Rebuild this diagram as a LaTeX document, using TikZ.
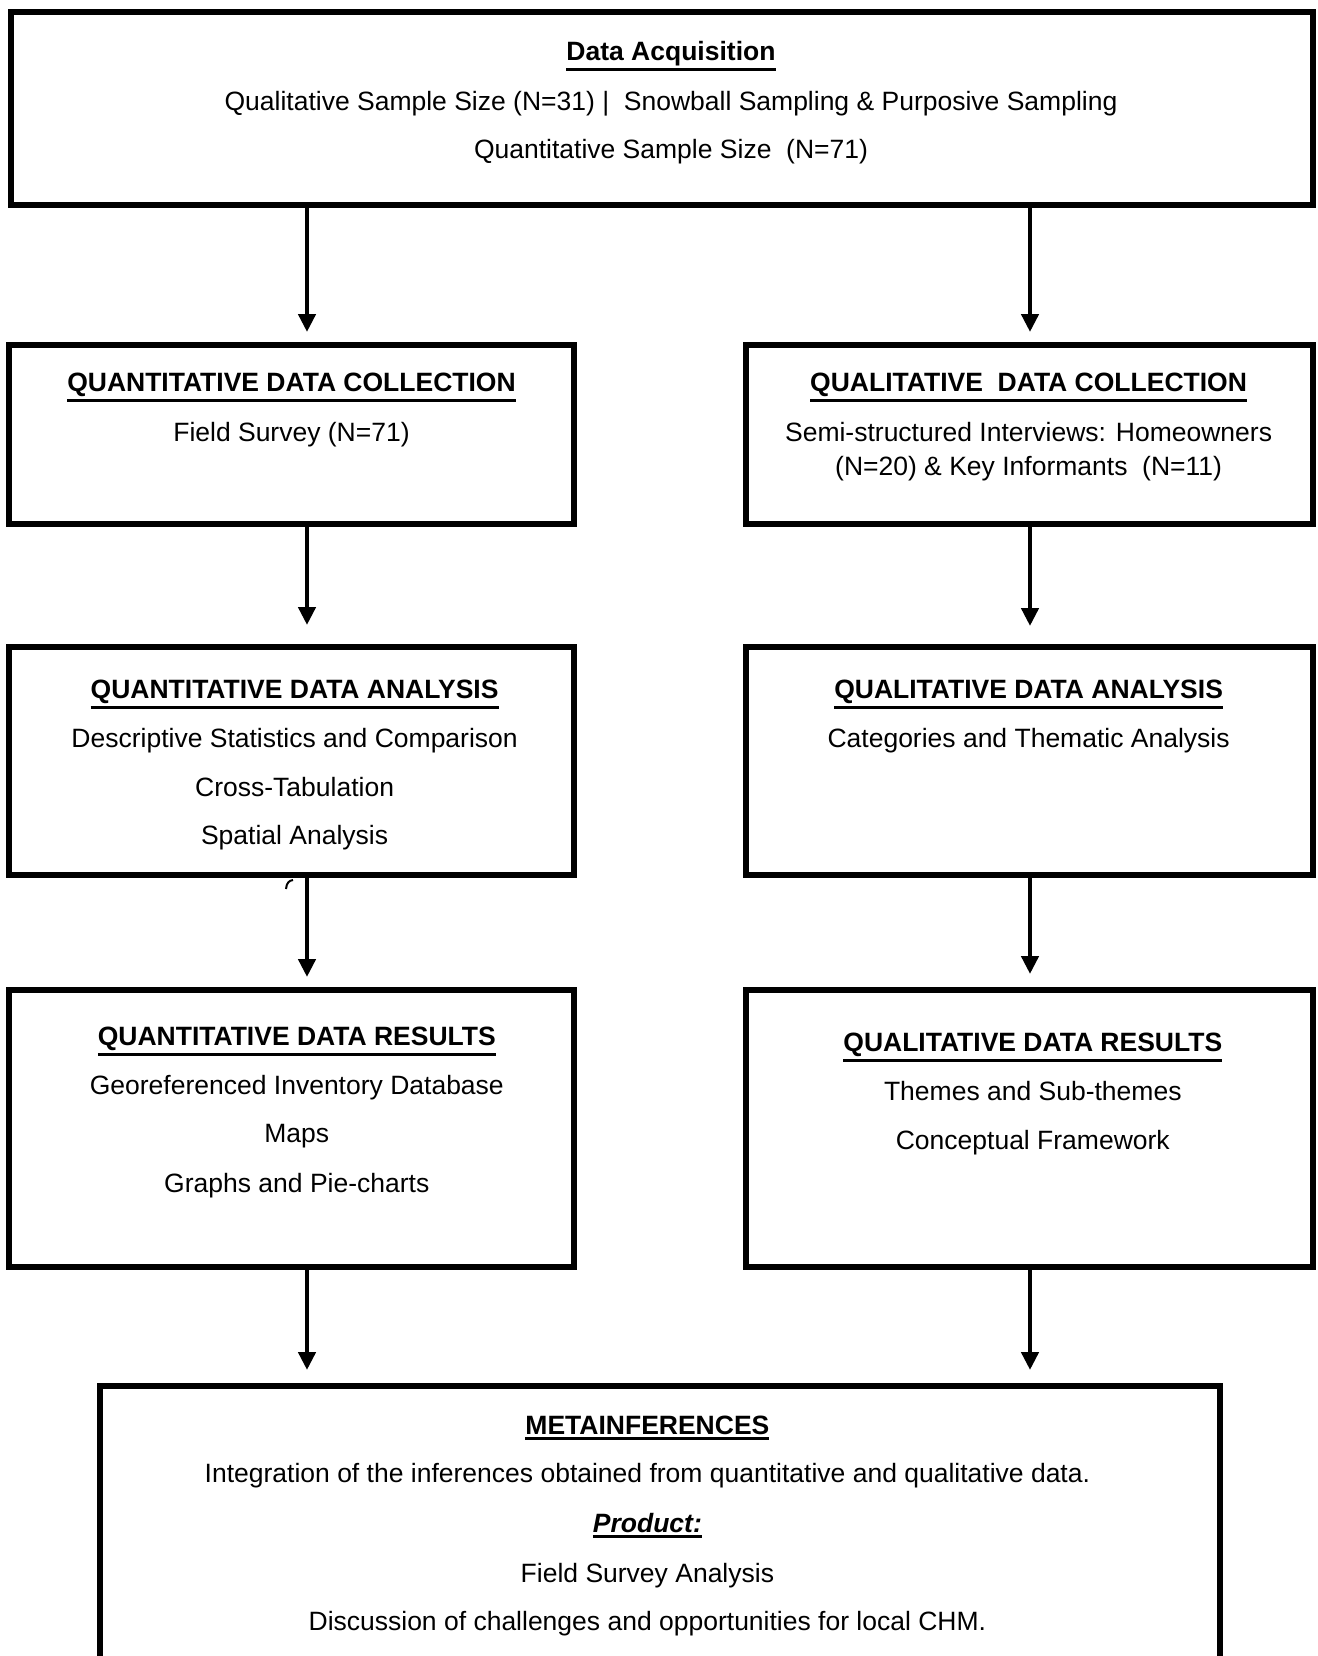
\documentclass[tikz,border=0pt]{standalone}
\usepackage{fontspec}
\setmainfont{Liberation Sans}
\usetikzlibrary{arrows.meta}
% underline with a thicker rule set just below the baseline
\newcommand{\heavyul}[1]{\leavevmode\vtop{\hbox{#1}\kern1.3pt\hrule height 1.5pt}}
\begin{document}
\begin{tikzpicture}[x=0.5pt,y=-0.5pt,
  box/.style={draw, line width=3.4pt, inner sep=0pt, rectangle},
  txt/.style={anchor=base, inner sep=0pt, font=\fontsize{13.25pt}{16pt}\selectfont},
  hdr/.style={txt, font=\fontsize{13.25pt}{16pt}\selectfont\bfseries},
  arr/.style={line width=2.2pt, -{Triangle[width=8.5pt,length=9pt]}}]
\clip (0,0) rectangle (1318,1656);
\fill[white] (0,0) rectangle (1318,1656);

% boxes
\node[box, minimum width=651pt, minimum height=96.5pt] (acq) at (662,108.5) {};
\node[box, minimum width=282.5pt, minimum height=89.5pt] (qncoll) at (291.5,434.5) {};
\node[box, minimum width=283.5pt, minimum height=89.5pt] (qlcoll) at (1029.5,434.5) {};
\node[box, minimum width=282.5pt, minimum height=114pt] (qnana) at (291.5,761) {};
\node[box, minimum width=283.5pt, minimum height=114pt] (qlana) at (1029.5,761) {};
\node[box, minimum width=282.5pt, minimum height=138.5pt] (qnres) at (291.5,1128.5) {};
\node[box, minimum width=283.5pt, minimum height=138.5pt] (qlres) at (1029.5,1128.5) {};
\node[box, minimum width=560pt, minimum height=157pt] (meta) at (660,1543) {};

% data acquisition
\node[hdr] (acqT) at (671,60) {\heavyul{Data Acquisition}};
\node[txt] (acq1) at (671,110) {Qualitative Sample Size (N=31) |~ Snowball Sampling \& Purposive Sampling};
\node[txt] (acq2) at (671,158) {Quantitative Sample Size~ (N=71)};

% collection
\node[hdr] (qncT) at (291.5,391.5) {\heavyul{QUANTITATIVE DATA COLLECTION}};
\node[txt] (qnc1) at (291.5,441.5) {Field Survey (N=71)};
\node[hdr] (qlcT) at (1028.6,391.5) {\heavyul{QUALITATIVE~ DATA COLLECTION}};
\node[txt] (qlc1) at (1028.6,441.5) {Semi-structured Interviews: Homeowners};
\node[txt] (qlc2) at (1028.6,475.5) {(N=20) \& Key Informants~ (N=11)};

% analysis
\node[hdr] (qnaT) at (294.6,698) {\heavyul{QUANTITATIVE DATA ANALYSIS}};
\node[txt] (qna1) at (294.6,747.5) {Descriptive Statistics and Comparison};
\node[txt] (qna2) at (294.6,796.5) {Cross-Tabulation};
\node[txt] (qna3) at (294.6,844.5) {Spatial Analysis};
\node[hdr] (qlaT) at (1028.6,698) {\heavyul{QUALITATIVE DATA ANALYSIS}};
\node[txt] (qla1) at (1028.6,747.5) {Categories and Thematic Analysis};

% results
\node[hdr] (qnrT) at (296.8,1045.5) {\heavyul{QUANTITATIVE DATA RESULTS}};
\node[txt] (qnr1) at (296.8,1094) {Georeferenced Inventory Database};
\node[txt] (qnr2) at (296.8,1142.5) {Maps};
\node[txt] (qnr3) at (296.8,1192.5) {Graphs and Pie-charts};
\node[hdr] (qlrT) at (1032.8,1051) {\heavyul{QUALITATIVE DATA RESULTS}};
\node[txt] (qlr1) at (1032.8,1100.5) {Themes and Sub-themes};
\node[txt] (qlr2) at (1032.8,1149) {Conceptual Framework};

% metainferences
\node[hdr] (metaT) at (647.4,1434) {\heavyul{METAINFERENCES}};
\node[txt] (meta1) at (647.4,1482.5) {Integration of the inferences obtained from quantitative and qualitative data.};
\node[txt] (meta2) at (647.4,1532.5) {\bfseries\itshape\heavyul{Product:}};
\node[txt] (meta3) at (647.4,1582) {Field Survey Analysis};
\node[txt] (meta4) at (647.4,1630.5) {Discussion of challenges and opportunities for local CHM.};

% arrow tips
\coordinate (L1) at (307,332);
\coordinate (R1) at (1030,332);
\coordinate (L2) at (307,625);
\coordinate (R2) at (1030,626);
\coordinate (L3) at (307,977);
\coordinate (R3) at (1030,974);
\coordinate (L4) at (307,1370);
\coordinate (R4) at (1030,1370);

\draw[arr] (acq.south -| L1) -- (L1);
\draw[arr] (acq.south -| R1) -- (R1);
\draw[arr] (qncoll.south -| L2) -- (L2);
\draw[arr] (qlcoll.south -| R2) -- (R2);
\draw[arr] (qnana.south -| L3) -- (L3);
\draw[arr] (qlana.south -| R3) -- (R3);
\draw[arr] (qnres.south -| L4) -- (L4);
\draw[arr] (qlres.south -| R4) -- (R4);

% stray stroke under the analysis box
\draw[line width=1pt] (286,889) .. controls (286.5,883) and (289,880.5) .. (293,880);
\end{tikzpicture}
\end{document}
